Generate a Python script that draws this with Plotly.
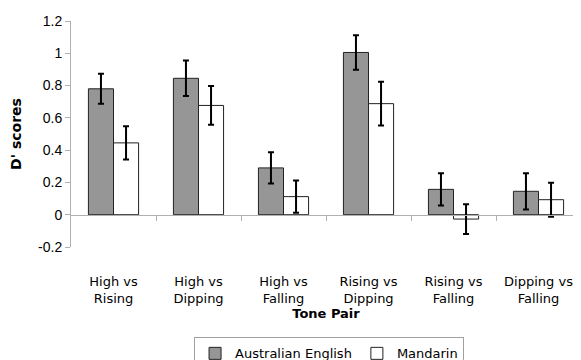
import plotly.graph_objects as go

categories = ["High vs<br>Rising", "High vs<br>Dipping", "High vs<br>Falling",
              "Rising vs<br>Dipping", "Rising vs<br>Falling", "Dipping vs<br>Falling"]
english = [0.78, 0.845, 0.29, 1.005, 0.157, 0.145]
english_err = [0.093, 0.11, 0.097, 0.107, 0.1, 0.112]
mandarin = [0.445, 0.677, 0.112, 0.688, -0.027, 0.093]
mandarin_err = [0.103, 0.12, 0.1, 0.135, 0.092, 0.105]
y_ticks = [-0.2, 0, 0.2, 0.4, 0.6, 0.8, 1, 1.2]
y_tick_text = ["-0.2", "0", "0.2", "0.4", "0.6", "0.8", "1", "1.2"]

idx = list(range(len(categories)))

fig = go.Figure()
fig.add_trace(go.Bar(
    x=idx, y=english, name="Australian English",
    marker=dict(color="#969696", line=dict(color="#222222", width=1)),
    error_y=dict(type="data", array=english_err, color="#000000", thickness=2, width=3),
))
fig.add_trace(go.Bar(
    x=idx, y=mandarin, name="Mandarin",
    marker=dict(color="#ffffff", line=dict(color="#222222", width=1)),
    error_y=dict(type="data", array=mandarin_err, color="#000000", thickness=2, width=3),
))
# invisible trace to host the zero-line category axis
fig.add_trace(go.Scatter(x=[0], y=[0], xaxis="x2", mode="markers",
                         marker=dict(opacity=0), showlegend=False, hoverinfo="skip"))

yr = [-0.2, 1.2]
zero_pos = (0 - yr[0]) / (yr[1] - yr[0])

# page body has an 8px margin, so the figure is sized to fit the 581x360 window
fig.update_layout(
    width=573, height=352,
    margin=dict(l=63, r=0, t=13, b=113, autoexpand=False),
    paper_bgcolor="white", plot_bgcolor="white",
    barmode="group", bargap=0.41, bargroupgap=0,
    font=dict(family="DejaVu Sans", color="#000000"),
    xaxis=dict(
        range=[-0.5, 5.5], tickvals=idx, ticktext=categories,
        showline=False, showgrid=False, zeroline=False, ticks="",
        tickfont=dict(family="DejaVu Sans", size=13, color="#000000"),
        ticklabelstandoff=25, ticklabeloverflow="allow", automargin=False,
        title=dict(text="<b>Tone Pair</b>", font=dict(family="DejaVu Sans", size=13), standoff=1),
    ),
    xaxis2=dict(
        range=[-0.5, 5.5], overlaying="x", anchor="free", position=zero_pos,
        tickvals=[0.5, 1.5, 2.5, 3.5, 4.5, 5.5], showticklabels=False,
        ticks="outside", ticklen=5, tickcolor="#b0b0b0", tickwidth=1,
        showline=True, linecolor="#b0b0b0", linewidth=1, showgrid=False, zeroline=False,
    ),
    yaxis=dict(
        range=yr, tickvals=y_ticks, ticktext=y_tick_text,
        showline=True, linecolor="#b0b0b0", linewidth=1,
        ticks="outside", ticklen=5, tickcolor="#b0b0b0",
        showgrid=False, zeroline=False, automargin=False,
        tickfont=dict(family="Liberation Sans", size=14, color="#000000"),
        title=dict(text="<b>D' scores</b>", font=dict(family="DejaVu Sans", size=14), standoff=18),
    ),
    legend=dict(
        orientation="h", x=0.506, xanchor="center", y=-0.40, yanchor="top",
        bordercolor="#a0a0a0", borderwidth=1, bgcolor="white",
        font=dict(family="DejaVu Sans", size=13), itemwidth=30, tracegroupgap=0,
    ),
)

fig.write_html("out.html")
